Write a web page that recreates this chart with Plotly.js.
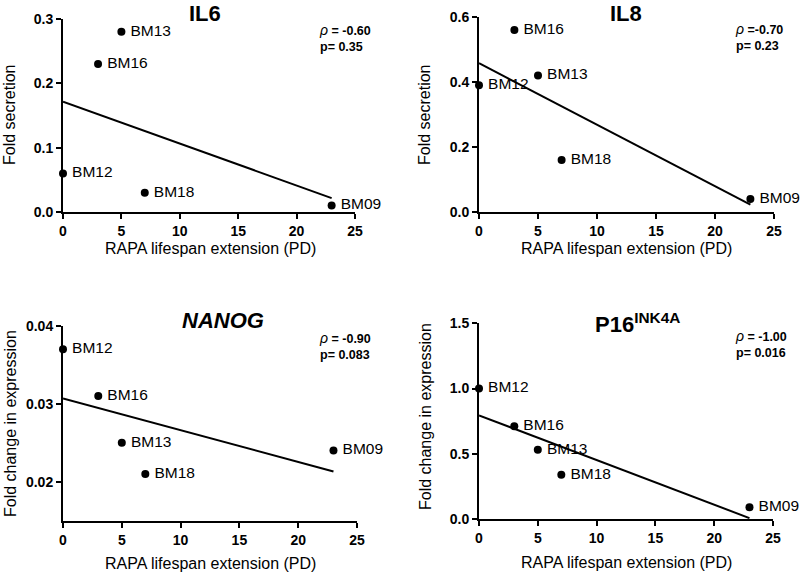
<!DOCTYPE html>
<html>
<head>
<meta charset="utf-8">
<script src="https://cdn.plot.ly/plotly-3.0.1.min.js"></script>
<style>html,body{margin:0;padding:0;background:#fff;}#chart{width:800px;height:573px;}</style>
</head>
<body>
<div id="chart"></div>
<script>
// ---- data ----
const samples = ['BM12', 'BM16', 'BM13', 'BM18', 'BM09'];
const lifespanExt = [0, 3, 5, 7, 23];          // RAPA lifespan extension (PD)
const il6 = [0.06, 0.23, 0.28, 0.03, 0.01];      // Fold secretion
const il8 = [0.39, 0.56, 0.42, 0.16, 0.04];      // Fold secretion
const nanog = [0.037, 0.031, 0.025, 0.021, 0.024]; // Fold change in expression
const p16 = [1.00, 0.71, 0.53, 0.34, 0.09];      // Fold change in expression
const panelTitles = ['IL6', 'IL8', '<i>NANOG</i>', 'P16<sup>INK4A</sup>'];
const rhoLabels = [' = -0.60', ' =-0.70', ' = -0.90', ' = -1.00'];
const pLabels = ['0.35', '0.23', '0.083', '0.016'];
const yTitles = ['Fold secretion', 'Fold secretion', 'Fold change in expression', 'Fold change in expression'];
const xTitle = 'RAPA lifespan extension (PD)';

const FONT = 'Arial, "Liberation Sans", sans-serif';
const series = [il6, il8, nanog, p16];

function fit(x, y) {
  const n = x.length;
  const mx = x.reduce((a, b) => a + b, 0) / n;
  const my = y.reduce((a, b) => a + b, 0) / n;
  let sxy = 0, sxx = 0;
  for (let i = 0; i < n; i++) { sxy += (x[i] - mx) * (y[i] - my); sxx += (x[i] - mx) ** 2; }
  const b = sxy / sxx, a = my - b * mx;
  const x0 = Math.min(...x), x1 = Math.max(...x);
  return { x: [x0, x1], y: [a + b * x0, a + b * x1] };
}

const traces = [];
series.forEach((ys, i) => {
  const ax = i === 0 ? '' : String(i + 1);
  const f = fit(lifespanExt, ys);
  traces.push({
    x: f.x, y: f.y, mode: 'lines', type: 'scatter',
    xaxis: 'x' + ax, yaxis: 'y' + ax,
    line: { color: '#000', width: 2 }, hoverinfo: 'skip', cliponaxis: false
  });
  traces.push({
    x: lifespanExt, y: ys, mode: 'markers+text', type: 'scatter',
    xaxis: 'x' + ax, yaxis: 'y' + ax,
    text: samples, texttemplate: '\u2009%{text}', textposition: 'middle right',
    textfont: { family: FONT, size: 15.5, color: '#000' },
    marker: { color: '#000', size: 8 }, cliponaxis: false
  });
});

function xAxis(domain, anchor) {
  return {
    domain: domain, anchor: anchor, range: [0, 25], dtick: 5, tick0: 0,
    showline: true, linecolor: '#000', linewidth: 2, mirror: false,
    ticks: 'outside', ticklen: 5, tickwidth: 2, tickcolor: '#000',
    showgrid: false, zeroline: false,
    tickfont: { family: FONT, size: 14, color: '#000', weight: 'bold' }
  };
}
function yAxis(domain, anchor, range, dtick, tick0, fmt) {
  return {
    domain: domain, anchor: anchor, range: range, dtick: dtick, tick0: tick0, tickformat: fmt,
    showline: true, linecolor: '#000', linewidth: 2, mirror: false,
    ticks: 'outside', ticklen: 5, tickwidth: 2, tickcolor: '#000',
    showgrid: false, zeroline: false,
    tickfont: { family: FONT, size: 14, color: '#000', weight: 'bold' }
  };
}

const H = 573, W = 800;
const py = v => 1 - v / H;
const px = v => v / W;

const layout = {
  width: W, height: H, showlegend: false,
  paper_bgcolor: '#fff', plot_bgcolor: '#fff',
  margin: { l: 0, r: 0, t: 0, b: 0 },
  xaxis: xAxis([px(63), px(355)], 'y'),
  yaxis: yAxis([py(212), py(19)], 'x', [0, 0.3], 0.1, 0, '.1f'),
  xaxis2: xAxis([px(479), px(774)], 'y2'),
  yaxis2: yAxis([py(212), py(17)], 'x2', [0, 0.6], 0.2, 0, '.1f'),
  xaxis3: xAxis([px(63), px(357)], 'y3'),
  yaxis3: yAxis([py(520.7), py(326)], 'x3', [0.015, 0.04], 0.01, 0.02, '.2f'),
  xaxis4: xAxis([px(479), px(773)], 'y4'),
  yaxis4: yAxis([py(519), py(323.3)], 'x4', [0, 1.5], 0.5, 0, '.1f'),
  annotations: []
};

const titlePos = [[205, 14], [626, 14], [223, 320], [637, 323]];
const statPos = [[317, 38], [733, 37], [317, 346], [733, 344]];
const yTitlePos = [[10, 115], [425, 115], [10, 424], [425, 417]];
const xTitlePos = [[210, 248], [626, 248], [210, 563], [626, 562]];

for (let i = 0; i < 4; i++) {
  layout.annotations.push({
    xref: 'paper', yref: 'paper', x: px(titlePos[i][0]), y: py(titlePos[i][1]),
    xanchor: 'center', yanchor: 'middle', showarrow: false,
    text: '<b>' + panelTitles[i] + '</b>',
    font: { family: FONT, size: 22, color: '#000' }
  });
  layout.annotations.push({
    xref: 'paper', yref: 'paper', x: px(statPos[i][0]), y: py(statPos[i][1]),
    xanchor: 'left', yanchor: 'middle', align: 'left', showarrow: false,
    text: '<i><span style="font-size:14px">\u03C1</span></i><b>' + rhoLabels[i] + '</b><br><b>p= ' + pLabels[i] + '</b>',
    font: { family: FONT, size: 12.5, color: '#000' }
  });
  layout.annotations.push({
    xref: 'paper', yref: 'paper', x: px(yTitlePos[i][0]), y: py(yTitlePos[i][1]),
    xanchor: 'center', yanchor: 'middle', textangle: -90, showarrow: false,
    text: yTitles[i], font: { family: FONT, size: 16, color: '#000' }
  });
  layout.annotations.push({
    xref: 'paper', yref: 'paper', x: px(xTitlePos[i][0]), y: py(xTitlePos[i][1]),
    xanchor: 'center', yanchor: 'middle', showarrow: false,
    text: xTitle, font: { family: FONT, size: 16, color: '#000' }
  });
}

Plotly.newPlot('chart', traces, layout, { displayModeBar: false, staticPlot: true });
</script>
</body>
</html>
